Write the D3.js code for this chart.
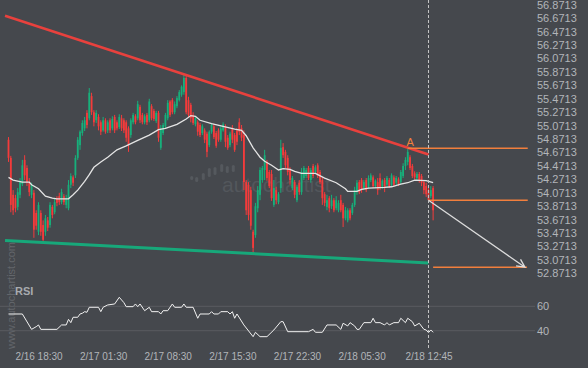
<!DOCTYPE html>
<html><head><meta charset="utf-8">
<script src="https://cdn.jsdelivr.net/npm/d3@7/dist/d3.min.js"></script>
<style>
html,body{margin:0;padding:0;background:#45484d;}
svg{display:block;font-family:"Liberation Sans",Arial,sans-serif;}
</style></head><body>
<svg id="c" width="588" height="368"></svg>
<script>
// ---- data (15-minute candles, 2/16 15:15 .. 2/18 13:15) ----
const open = [
54.86,54.59,54.04,53.99,53.86,54.04,54.20,54.56,54.44,54.23,
54.04,54.07,53.77,53.49,53.77,53.59,53.49,53.66,53.59,53.86,
53.78,53.99,54.02,53.93,54.02,53.89,53.84,54.19,54.30,54.33,
54.59,54.78,54.96,55.03,55.26,55.18,55.51,55.27,55.15,55.20,
55.12,55.00,55.15,55.00,55.15,55.03,55.20,55.12,55.05,55.18,
55.15,55.12,55.03,54.93,55.12,55.21,55.18,55.35,55.23,55.12,
55.23,55.15,55.36,55.29,55.14,55.26,54.74,54.96,55.06,55.18,
55.43,55.45,55.27,55.36,55.45,55.53,55.57,55.78,55.45,55.38,
55.23,55.09,55.12,55.08,54.96,55.00,54.95,54.78,54.98,55.06,
54.96,55.00,54.86,55.00,55.06,54.89,54.78,55.03,54.93,55.00,
55.12,55.03,54.93,54.23,54.19,54.11,53.49,53.44,53.84,54.04,
54.26,54.41,54.53,54.38,54.35,53.89,54.11,53.93,54.14,54.75,
54.68,54.59,54.41,54.14,54.23,53.96,54.22,54.08,54.29,54.32,
54.44,54.26,54.47,54.38,54.48,54.38,54.26,54.05,53.86,53.99,
53.87,53.96,53.84,53.81,53.96,53.89,53.69,53.66,53.81,53.77,
53.89,54.08,54.23,54.26,54.14,54.26,54.16,54.26,54.30,54.17,
54.23,54.29,54.16,54.26,54.19,54.26,54.19,54.30,54.22,54.27,
54.23,54.32,54.47,54.53,54.60,54.47,54.36,54.29,54.35,54.32,
54.23,54.17,54.11,54.02,54.14];
const high = [
54.90,54.62,54.11,54.04,54.14,54.29,54.56,54.63,54.48,54.29,
54.22,54.11,53.81,53.93,53.81,53.66,53.74,53.71,53.93,53.89,
53.98,54.02,54.07,54.13,54.05,54.04,54.26,54.36,54.33,54.63,
54.90,55.00,55.15,55.20,55.30,55.63,55.56,55.30,55.30,55.24,
55.15,55.20,55.18,55.15,55.18,55.21,55.23,55.15,55.24,55.23,
55.18,55.15,55.06,55.18,55.26,55.24,55.44,55.38,55.26,55.24,
55.26,55.47,55.39,55.32,55.29,55.29,55.08,55.11,55.26,55.45,
55.45,55.48,55.43,55.51,55.60,55.67,55.84,55.81,55.50,55.41,
55.27,55.21,55.15,55.11,55.09,55.03,54.98,55.00,55.11,55.09,
54.99,55.03,55.06,55.12,55.09,54.93,54.98,55.08,54.96,55.03,
55.18,55.08,55.00,54.26,54.23,54.16,53.52,53.92,54.17,54.45,
54.47,54.71,54.56,54.41,54.41,54.26,54.16,54.08,54.86,54.81,
54.71,54.63,54.45,54.32,54.26,54.19,54.26,54.44,54.47,54.44,
54.47,54.44,54.50,54.48,54.51,54.41,54.30,54.08,54.04,54.02,
54.04,53.99,54.02,53.96,54.04,53.92,53.86,53.84,53.84,53.92,
54.16,54.26,54.26,54.29,54.26,54.29,54.33,54.36,54.33,54.27,
54.29,54.36,54.27,54.29,54.32,54.29,54.36,54.33,54.32,54.30,
54.41,54.51,54.60,54.74,54.63,54.50,54.39,54.38,54.38,54.35,
54.26,54.22,54.14,54.17,54.17];
const low = [
54.53,53.78,53.74,53.78,53.81,53.99,54.17,54.26,54.17,54.02,
53.99,53.40,53.52,53.44,53.43,53.32,53.43,53.50,53.55,53.69,
53.75,53.87,53.89,53.90,53.89,53.84,53.81,54.14,54.17,54.29,
54.56,54.71,54.92,54.99,55.03,55.15,55.23,55.06,55.11,55.00,
54.93,54.98,54.95,54.96,54.96,55.00,54.96,55.00,55.02,54.99,
54.96,54.83,54.68,54.89,55.09,55.09,55.15,55.11,55.09,55.09,
55.08,55.12,55.15,55.14,55.11,54.83,54.71,54.93,55.03,55.15,
55.20,55.24,55.24,55.33,55.43,55.50,55.53,55.24,55.20,55.12,
55.08,55.06,54.92,54.90,54.93,54.81,54.60,54.75,54.95,54.87,
54.74,54.83,54.83,54.98,54.75,54.71,54.75,54.81,54.68,54.78,
54.93,54.84,54.11,53.74,53.66,53.52,53.16,53.40,53.78,53.96,
54.22,54.26,54.25,54.14,53.95,53.86,53.90,53.90,54.07,54.59,
54.44,54.33,54.19,54.11,53.99,53.93,54.04,54.04,54.26,54.29,
54.26,54.22,54.29,54.35,54.29,54.20,53.89,53.87,53.81,53.78,
53.83,53.78,53.81,53.78,53.78,53.56,53.66,53.63,53.66,53.74,
53.86,54.04,54.05,54.07,54.11,54.08,54.13,54.23,54.14,54.14,
54.04,54.11,54.13,54.08,54.16,54.14,54.16,54.16,54.19,54.17,
54.20,54.29,54.41,54.48,54.41,54.29,54.27,54.26,54.22,54.17,
54.05,54.01,53.92,53.99,53.66];
const close = [
54.59,53.89,53.81,53.84,54.08,54.23,54.48,54.33,54.23,54.08,
54.19,53.52,53.58,53.89,53.49,53.37,53.69,53.55,53.89,53.74,
53.93,53.92,53.93,54.08,53.93,53.99,54.19,54.32,54.22,54.59,
54.86,54.98,55.11,55.15,55.08,55.56,55.27,55.12,55.26,55.06,
54.98,55.15,54.98,55.12,55.00,55.17,55.00,55.03,55.20,55.03,
55.00,54.89,54.78,55.15,55.23,55.12,55.39,55.15,55.12,55.21,
55.12,55.43,55.18,55.17,55.26,54.89,55.03,55.08,55.23,55.41,
55.23,55.27,55.39,55.48,55.57,55.65,55.78,55.27,55.23,55.18,
55.11,55.18,54.98,54.93,55.06,54.86,54.68,54.98,55.08,54.90,
54.77,54.86,55.03,55.09,54.83,54.74,54.95,54.86,54.71,54.83,
54.98,54.89,54.23,53.81,53.74,53.58,53.25,53.87,54.11,54.41,
54.44,54.63,54.29,54.17,53.99,54.14,53.96,54.05,54.74,54.63,
54.48,54.38,54.26,54.29,54.04,54.16,54.08,54.38,54.44,54.41,
54.29,54.41,54.32,54.45,54.32,54.23,53.99,53.92,53.96,53.84,
53.96,53.81,53.96,53.92,53.81,53.69,53.81,53.81,53.69,53.89,
54.11,54.22,54.08,54.11,54.23,54.11,54.29,54.33,54.17,54.25,
54.11,54.14,54.25,54.16,54.29,54.17,54.33,54.19,54.29,54.20,
54.38,54.47,54.56,54.68,54.44,54.32,54.30,54.35,54.25,54.22,
54.11,54.05,53.96,54.11,53.81];

// moving average (candle index, value)
const maIdx = [0,2,6,9,10,13,16,19,21,26,28,30,33,35,37,40,43,47,51,56,61,65,68,73,77,79,81,83,88,93,98,101,103,106,109,111,114,117,119,122,124,127,133,137,142,146,147,151,153,156,163,166,170,173,176,181,184];
const maVal = [54.30,54.26,54.23,54.23,54.19,54.13,54.02,53.99,53.98,53.98,54.04,54.11,54.24,54.34,54.45,54.53,54.60,54.71,54.77,54.85,54.93,55.01,55.03,55.09,55.17,55.22,55.21,55.15,55.10,55.06,55.02,55.00,54.92,54.74,54.60,54.54,54.48,54.41,54.43,54.42,54.39,54.36,54.36,54.29,54.22,54.13,54.09,54.09,54.12,54.14,54.15,54.16,54.20,54.22,54.26,54.25,54.22];

// RSI (candle index, value)
const rsiIdx = [0,6,10,12,13,14,21,23,25,26,27,28,30,31,32,33,34,35,39,40,41,43,46,48,50,51,54,55,56,57,59,61,62,65,66,67,69,71,72,75,76,77,80,82,83,87,88,89,91,92,95,96,97,98,99,102,106,107,109,112,115,118,119,121,130,132,133,136,138,142,144,145,147,148,150,151,152,154,157,158,159,161,163,164,165,167,169,170,172,173,175,176,178,180,181,182,183,184];
const rsiVal = [53.7,53.7,41.1,43.3,44.7,41.1,41.1,44.7,44.7,49.3,46.6,51.0,51.0,53.7,54.3,55.6,55.1,59.2,59.2,55.6,59.2,61.1,61.9,67.4,63.0,59.7,59.7,61.9,59.7,61.9,56.4,59.2,55.6,55.6,53.7,56.4,56.4,61.9,59.2,59.2,61.9,59.2,59.2,50.2,53.7,53.7,55.6,53.7,53.7,55.6,55.6,53.7,55.6,50.2,53.7,44.7,35.1,38.7,35.1,35.1,40.6,47.4,47.4,39.2,39.2,41.1,38.7,38.7,44.7,44.7,41.1,46.1,43.9,46.6,43.9,41.1,41.1,46.6,46.6,50.2,46.6,46.6,44.7,46.6,44.7,46.6,46.6,50.2,46.6,50.2,47.4,43.9,46.1,41.1,40.6,38.4,40.6,38.7];

// axes
const priceTicks = ["52.8713","53.0713","53.2713","53.4713","53.6713","53.8713","54.0713","54.2713","54.4713","54.6713","54.8713","55.0713","55.2713","55.4713","55.6713","55.8713","56.0713","56.2713","56.4713","56.6713","56.8713"];
const rsiTicks = [40, 60];
const timeTickIdx = [13, 41, 69, 97, 125, 153, 182];
const timeTickLabels = ["2/16 18:30","2/17 01:30","2/17 08:30","2/17 15:30","2/17 22:30","2/18 05:30","2/18 12:45"];

// pattern (triangle) annotation
const resistIdx = [-1.5, 182], resistPrice = [56.708, 54.641];
const supportIdx = [-1.5, 182], supportPrice = [53.361, 53.025];
const levelA = 54.733, levelAStart = 173;
const levelB = 53.958, levelBStart = 182;
const levelEnd = 225;
const targetPrice = 52.962, targetStart = 184, targetEnd = 224.7;
const arrowStart = [182, 53.958], arrowEnd = [223.8, 52.962];
const patternEndIdx = 182;

// ---- drawing ----
const RED = "#f43b3b", GREEN = "#17b07b", ORANGE = "#f27f3d";
const svg = d3.select("#c");
const x = d3.scaleLinear().domain([0, 182]).range([8.5, 428.5]);
const y = d3.scaleLinear().domain([52.8713, 56.8713]).range([273.3, 4.7]);
const yR = d3.scaleLinear().domain([40, 60]).range([330.7, 306.3]);

// watermark
const wm = svg.append("g");
const wmBars = [[191.7,176,180],[196.7,177,182],[203.3,173,180],[209.3,168,177],[215,167,175],[221.7,164,172],[227.3,166,173],[233.3,165,172]];
wm.selectAll("rect").data(wmBars).join("rect")
  .attr("x", d => d[0]-1.5).attr("width", 3).attr("y", d => d[1]).attr("height", d => d[2]-d[1])
  .attr("rx", 1.5).attr("fill", "#55595e");
wm.append("text").attr("x", 222).attr("y", 192).attr("font-size", 21).attr("fill", "#53575c").text("autochartist");
wm.append("text").attr("transform", "translate(15,349) rotate(-90)").attr("font-size", 11)
  .attr("fill", "#63666b").text("www.autochartist.com");

// RSI grid
svg.selectAll("line.rg").data(rsiTicks).join("line").attr("class","rg")
  .attr("x1", 0).attr("x2", 535).attr("y1", d => yR(d)).attr("y2", d => yR(d))
  .attr("stroke", "#595c61").attr("stroke-width", 1);

// candles
const idx = d3.range(open.length);
const col = i => close[i] < open[i] ? RED : GREEN;
const cg = svg.append("g");
cg.selectAll("line").data(idx).join("line")
  .attr("x1", i => x(i)).attr("x2", i => x(i))
  .attr("y1", i => y(high[i])).attr("y2", i => y(low[i]))
  .attr("stroke", col).attr("stroke-width", 1);
cg.selectAll("rect").data(idx).join("rect")
  .attr("x", i => x(i) - 0.9).attr("width", 1.8)
  .attr("y", i => y(Math.max(open[i], close[i])))
  .attr("height", i => Math.max(1, Math.abs(y(open[i]) - y(close[i]))))
  .attr("fill", col);

// moving average
svg.append("path").datum(maIdx.map((d,k) => [d, maVal[k]]))
  .attr("d", d3.line().x(d => x(d[0])).y(d => y(d[1])))
  .attr("fill", "none").attr("stroke", "#e4e4e4").attr("stroke-width", 1.3);

// trend lines
const tl = (ix, pr, c, w) => svg.append("line")
  .attr("x1", x(ix[0])).attr("y1", y(pr[0])).attr("x2", x(ix[1])).attr("y2", y(pr[1]))
  .attr("stroke", c).attr("stroke-width", w);
tl(resistIdx, resistPrice, "#e8413d", 2.6);
tl(supportIdx, supportPrice, "#17a87a", 3);

// levels
tl([levelAStart, levelEnd], [levelA, levelA], ORANGE, 1.5);
tl([levelBStart, levelEnd], [levelB, levelB], ORANGE, 1.5);
tl([targetStart, targetEnd], [targetPrice, targetPrice], ORANGE, 1.5);
svg.append("text").attr("x", x(levelAStart) + 2.5).attr("y", y(levelA) - 2.5)
  .attr("text-anchor", "middle").attr("font-size", 11).attr("fill", ORANGE).text("A");

// arrow
{
  const x1 = x(arrowStart[0]), y1 = y(arrowStart[1]), x2 = x(arrowEnd[0]), y2 = y(arrowEnd[1]);
  const a = Math.atan2(y2 - y1, x2 - x1), L = 9, th = 0.45;
  svg.append("path")
    .attr("d", `M${x1},${y1}L${x2},${y2}M${x2 - L*Math.cos(a-th)},${y2 - L*Math.sin(a-th)}L${x2},${y2}L${x2 - L*Math.cos(a+th)},${y2 - L*Math.sin(a+th)}`)
    .attr("fill", "none").attr("stroke", "#dcdcdc").attr("stroke-width", 1.3);
}

// RSI line
svg.append("path").datum(rsiIdx.map((d,k) => [d, rsiVal[k]]))
  .attr("d", d3.line().x(d => x(d[0])).y(d => yR(d[1])))
  .attr("fill", "none").attr("stroke", "#f2f2f2").attr("stroke-width", 1);
svg.append("text").attr("x", 15).attr("y", 295).attr("font-size", 11).attr("font-weight", "bold")
  .attr("fill", "#a8abaf").text("RSI");

// pattern end dashed line
svg.append("line").attr("x1", x(patternEndIdx)).attr("x2", x(patternEndIdx)).attr("y1", 0).attr("y2", 350)
  .attr("stroke", "#c4c4c4").attr("stroke-width", 1).attr("stroke-dasharray", "3,2");

// axes
const styleAxis = (g, size) => {
  g.select(".domain").remove();
  g.attr("font-family", '"Liberation Sans",Arial,sans-serif').attr("font-size", size);
  g.selectAll("text").attr("fill", "#b2b5b9");
};
svg.append("g").attr("transform", "translate(537,0)")
  .call(d3.axisRight(y).tickValues(priceTicks.map(Number)).tickFormat((d,i) => priceTicks[i]).tickSize(0).tickPadding(0))
  .call(g => styleAxis(g, 11));
svg.append("g").attr("transform", "translate(537,0)")
  .call(d3.axisRight(yR).tickValues(rsiTicks).tickSize(0).tickPadding(0))
  .call(g => styleAxis(g, 11));
svg.append("g").attr("transform", "translate(0,350)")
  .call(d3.axisBottom(x).tickValues(timeTickIdx).tickFormat((d,i) => timeTickLabels[i]).tickSize(0).tickPadding(3))
  .call(g => styleAxis(g, 10));
</script>
</body></html>
